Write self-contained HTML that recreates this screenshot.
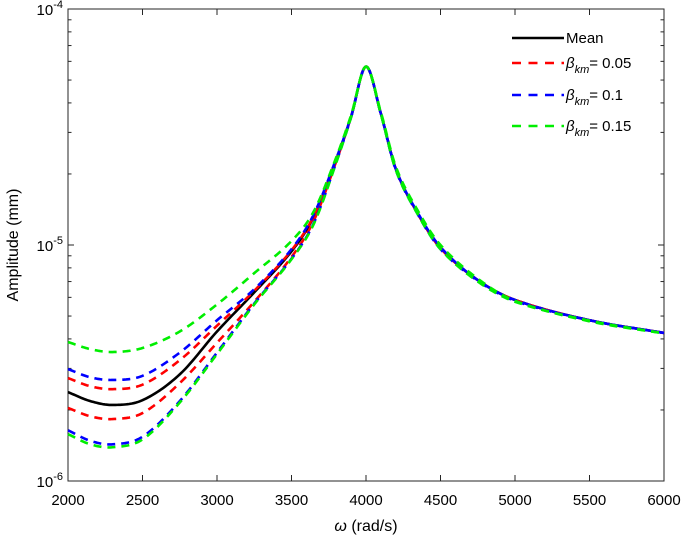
<!DOCTYPE html>
<html><head><meta charset="utf-8"><style>
body{margin:0;background:#fff;}
svg{display:block;font-family:"Liberation Sans",Arial,sans-serif;}
</style></head><body>
<svg id="chart" width="685" height="539"></svg>
<script>
const xs=[2000,2150,2300,2500,2750,3000,3250,3500,3650,3800,3900,4000,4100,4200,4350,4500,4750,5000,5500,6000];
const meanVals=[2.38,2.18,2.10,2.20,2.83,4.3,6.3,9.4,13.2,22.8,35,57,36,21,13.5,9.7,7.1,5.85,4.8,4.24];
const redUpper=[2.73,2.52,2.45,2.56,3.25,4.55,6.4,9.5,13.3,23,35,57,36,21,13.5,9.7,7.1,5.85,4.8,4.24];
const redLower=[2.04,1.88,1.83,1.94,2.6,3.85,5.75,8.9,12.7,22.6,35,57,36,21,13.5,9.7,7.1,5.85,4.8,4.24];
const blueUpper=[2.98,2.75,2.68,2.79,3.5,4.8,6.5,9.6,13.5,23.2,35,57,36,21,13.6,9.8,7.1,5.85,4.8,4.24];
const blueLower=[1.64,1.48,1.43,1.54,2.18,3.5,5.65,8.75,12.4,22.4,34.8,57,35.8,20.8,13.4,9.6,7.05,5.8,4.8,4.24];
const greenUpper=[3.88,3.62,3.52,3.66,4.3,5.6,7.6,10.4,13.9,23.5,35.5,57,36.5,21.5,13.9,10.0,7.2,5.8,4.75,4.22];
const greenLower=[1.58,1.43,1.39,1.50,2.15,3.45,5.6,8.7,12.3,22.3,34.8,57,35.8,20.8,13.4,9.6,7.0,5.75,4.78,4.22];
const xTicks=[2000,2500,3000,3500,4000,4500,5000,5500,6000];
const yDecades=[-6,-5,-4];

const L=68,R=664,T=9,B=481;
const NS="http://www.w3.org/2000/svg";
const svg=document.getElementById('chart');
function X(v){return L+(v-2000)/4000*(R-L);}
function Y(v){return B-(Math.log10(v*1e-6)+6)/2*(B-T);}
function mk(tag,attrs,parent){const e=document.createElementNS(NS,tag);for(const k in attrs)e.setAttribute(k,attrs[k]);(parent||svg).appendChild(e);return e;}

const axes=mk('g',{stroke:'#262626','stroke-width':1});


xTicks.forEach(t=>{
  mk('line',{x1:X(t),x2:X(t),y1:B,y2:B-6},axes);
  mk('line',{x1:X(t),x2:X(t),y1:T,y2:T+6},axes);
  const tx=mk('text',{x:X(t),y:B+24,'text-anchor':'middle','font-size':15,fill:'#000',stroke:'none'});
  tx.textContent=t;
  
  
});
for(let d=-6;d<-4;d++){for(let m=2;m<=9;m++){const yy=Y(m*Math.pow(10,d)*1e6);
  mk('line',{x1:L,x2:L+3.5,y1:yy,y2:yy},axes);mk('line',{x1:R,x2:R-3.5,y1:yy,y2:yy},axes);}}
yDecades.forEach(d=>{const yy=Y(Math.pow(10,d)*1e6);
  mk('line',{x1:L,x2:L+6,y1:yy,y2:yy},axes);mk('line',{x1:R,x2:R-6,y1:yy,y2:yy},axes);
  const tx=mk('text',{x:L-5,y:yy+6,'text-anchor':'end','font-size':15,fill:'#000',stroke:'none'});
  tx.innerHTML='10<tspan dy="-7" font-size="11">'+d+'</tspan>';
  
  
});
mk('rect',{x:L,y:T,width:R-L,height:B-T,fill:'none'},axes);

function pathD(vals){
  const n=xs.length, ly=vals.map(v=>Math.log10(v));
  const m=new Array(n);
  m[0]=(ly[1]-ly[0])/(xs[1]-xs[0]);m[n-1]=(ly[n-1]-ly[n-2])/(xs[n-1]-xs[n-2]);
  for(let i=1;i<n-1;i++)m[i]=(ly[i+1]-ly[i-1])/(xs[i+1]-xs[i-1]);
  let d='';
  for(let i=0;i<n-1;i++){
    const h=xs[i+1]-xs[i];
    for(let s=0;s<=20;s++){
      if(i>0&&s===0)continue;
      const t=s/20,t2=t*t,t3=t2*t;
      const v=(2*t3-3*t2+1)*ly[i]+(t3-2*t2+t)*h*m[i]+(-2*t3+3*t2)*ly[i+1]+(t3-t2)*h*m[i+1];
      const px=X(xs[i]+t*h),py=Y(Math.pow(10,v));
      d+=(d?' L':'M')+px.toFixed(2)+','+py.toFixed(2);
    }
  }
  return d;
}
const series=[
 ['mean-line',meanVals,'#000',null],
 ['red-upper-line',redUpper,'#ff0000','8,6'],['red-lower-line',redLower,'#ff0000','8,6'],
 ['blue-upper-line',blueUpper,'#0000ff','8,6'],['blue-lower-line',blueLower,'#0000ff','8,6'],
 ['green-upper-line',greenUpper,'#00ee00','8,6'],['green-lower-line',greenLower,'#00ee00','8,6']];
series.forEach(s=>{
  const a={d:pathD(s[1]),fill:'none',stroke:s[2],'stroke-width':2.6};
  if(s[3])a['stroke-dasharray']=s[3];
  const e=mk('path',a);
  
  
});

const xl=mk('text',{x:(L+R)/2,y:B+50,'text-anchor':'middle','font-size':16});
xl.innerHTML='<tspan font-style="italic">ω</tspan> (rad/s)';


const yl=mk('text',{x:0,y:0,'text-anchor':'middle','font-size':16,transform:'translate(18,'+((T+B)/2)+') rotate(-90)'});
yl.textContent='Amplitude (mm)';



const leg=[['Mean','#000',null,38],['0.05','#ff0000','8,6',63],['0.1','#0000ff','8,6',95],['0.15','#00ee00','8,6',126]];
const lg=mk('g',{});


leg.forEach((e,i)=>{
  const a={x1:512,x2:564,y1:e[3],y2:e[3],stroke:e[1],'stroke-width':2.6};
  if(e[2])a['stroke-dasharray']='9,7.5';
  mk('line',a,lg);
  const t=mk('text',{x:566,y:e[3]+5,'font-size':15},lg);
  if(i===0)t.textContent='Mean';
  else t.innerHTML='<tspan font-style="italic">β</tspan><tspan dy="5" font-size="11" font-style="italic">km</tspan><tspan dy="-5">= '+e[0]+'</tspan>';
  
  
});
</script>
</body></html>
